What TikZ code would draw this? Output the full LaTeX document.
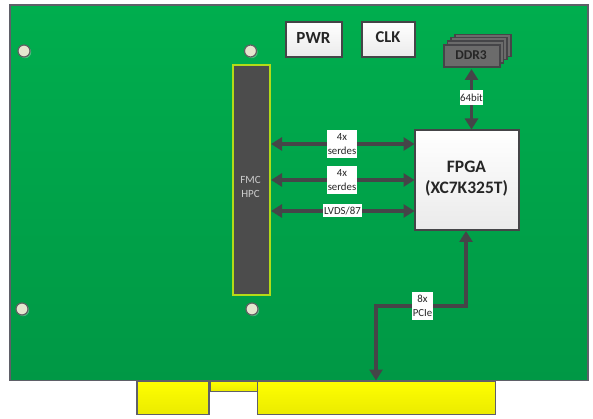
\documentclass[tikz,border=0pt]{standalone}
\usepackage{fontspec}
\setmainfont{Carlito}
\usetikzlibrary{arrows.meta,shadows}
\definecolor{line}{HTML}{454548}
\definecolor{edge}{HTML}{5F6068}
\definecolor{boardtop}{HTML}{00AE4E}
\definecolor{boardbot}{HTML}{009845}
\definecolor{holefill}{HTML}{E4E6CF}
\tikzset{
  x=1pt,y=-1pt,
  boxn/.style={draw=#1,line width=1.2pt,anchor=north west,inner sep=0pt,outer sep=0pt},
  board/.style={boxn=edge,top color=boardtop,bottom color=boardbot,minimum width=578,minimum height=375.5},
  finger/.style={boxn=edge,top color=yellow,bottom color=yellow!92!black},
  hole/.style={circle,draw=line!85,line width=1.2pt,fill=holefill,minimum size=12,inner sep=0pt,
     drop shadow={shadow xshift=1.2pt,shadow yshift=-1.2pt,fill=white,opacity=.3}},
  whitebox/.style={boxn=line,top color=white,bottom color=black!8,
     drop shadow={shadow xshift=1.2pt,shadow yshift=-1.2pt,fill=white,opacity=.3}},
  chip/.style={boxn=line,fill=black!58,minimum width=56,minimum height=22},
  link/.style={draw=line,line width=3.2pt,{Triangle[length=11pt,width=13pt]}-{Triangle[length=11pt,width=13pt]}},
  tag/.style={fill=white,font=\fontsize{10.8}{14}\selectfont,text=black!85,inner sep=0pt,align=center},
}
\begin{document}
\begin{tikzpicture}
\useasboundingbox (0,0) rectangle (593,419);
% gold fingers
\node[finger,minimum width=72,minimum height=33.5] (f1) at (137,381) {};
\node[finger,minimum width=47.5,minimum height=10.5] (f2) at (210,381) {};
\node[finger,minimum width=238,minimum height=33.5] (f3) at (257.5,381) {};
% board
\node[board] (pcb) at (10,5) {};
% mounting holes
\node[hole] (h1) at (24,51) {};
\node[hole] (h2) at (250.5,51) {};
\node[hole] (h3) at (22,309) {};
\node[hole] (h4) at (252,309) {};
% FMC
\node[boxn=yellow!70!green,line width=2pt,fill=black!70,minimum width=37,minimum height=229,
  drop shadow={shadow xshift=1.2pt,shadow yshift=-1.2pt,fill=white,opacity=.3}] (fmc) at (232.5,65.5) {};
\node[font=\fontsize{11}{14}\selectfont,text=white!80!black,align=center] (fmct) at (250.5,186.5) {FMC\\HPC};
% small blocks
\node[whitebox,minimum width=56,minimum height=35] (pwr) at (286,22) {};
\node[font=\bfseries\fontsize{17}{19}\selectfont,text=black!85] (pwrt) at (313.5,37.5) {PWR};
\node[whitebox,minimum width=53,minimum height=35] (clk) at (362,22) {};
\node[font=\bfseries\fontsize{16.5}{19}\selectfont,text=black!85] (clkt) at (388,37.5) {CLK};
% DDR3 stack
\node[chip] (d4) at (455,34.5) {};
\node[chip] (d3) at (451,37.5) {};
\node[chip] (d2) at (447.5,41) {};
\node[chip] (d1) at (444,45) {};
\node[font=\bfseries\fontsize{13.5}{15}\selectfont,text=black!85] (ddrt) at (471,55.5) {DDR3};
% FPGA
\node[whitebox,minimum width=104,minimum height=100] (fpga) at (415,130) {};
\node[font=\bfseries\fontsize{17.5}{21}\selectfont,text=black!85,align=center] (fpgat) at (466.5,179) {FPGA\\(XC7K325T)};
% connectors
\coordinate (a1l) at (271,144); \coordinate (a1r) at (414.5,144);
\coordinate (a2l) at (271,180); \coordinate (a2r) at (414.5,180);
\coordinate (a3l) at (271,211); \coordinate (a3r) at (414.5,211);
\coordinate (dt) at (471.5,69);  \coordinate (db) at (471.5,129.5);
\coordinate (pb) at (376,380.5); \coordinate (pt) at (466,231);
\draw[link] (a1l) -- (a1r);
\draw[link] (a2l) -- (a2r);
\draw[link] (a3l) -- (a3r);
\draw[link] (dt) -- (db);
\draw[link] (pb) |- (466,306) -- (pt);
% labels
\node[tag,minimum width=30,minimum height=28] (l1) at (342,144) {4x\\serdes};
\node[tag,minimum width=30,minimum height=28] (l2) at (342,180) {4x\\serdes};
\node[tag,minimum width=39,minimum height=13] (l3) at (342.5,211) {LVDS/87};
\node[tag,minimum width=23,minimum height=15] (l4) at (471.5,98) {64bit};
\node[tag,minimum width=21,minimum height=28] (l5) at (422.5,306) {8x\\PCIe};
\end{tikzpicture}
\end{document}
